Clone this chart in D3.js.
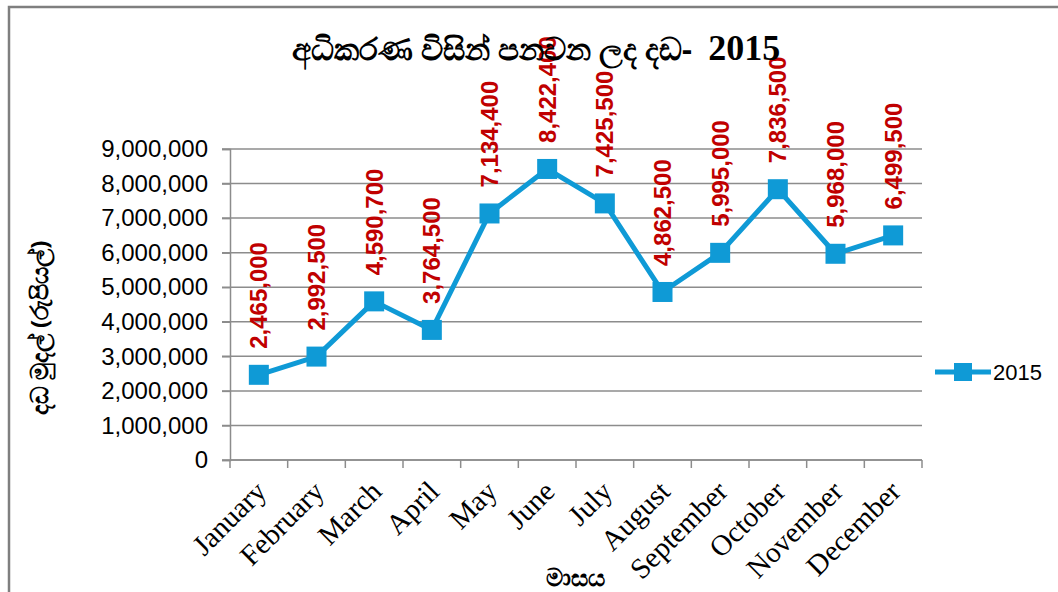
<!DOCTYPE html>
<html>
<head>
<meta charset="utf-8">
<script src="https://cdn.jsdelivr.net/npm/d3@7"></script>
<style>
  body { margin: 0; background: #fff; }
  svg { display: block; }
</style>
</head>
<body>
<svg id="chart" width="1058" height="592"></svg>
<script>
// chart data
const months = ['January', 'February', 'March', 'April', 'May', 'June', 'July',
    'August', 'September', 'October', 'November', 'December'];
const fines2015 = [2465000, 2992500, 4590700, 3764500, 7134400, 8422400, 7425500,
    4862500, 5995000, 7836500, 5968000, 6499500];
const yTicks = [0, 1000000, 2000000, 3000000, 4000000, 5000000, 6000000, 7000000, 8000000, 9000000];
const seriesName = '2015';
const titleText = 'අධිකරණ විසින් පනවන ලද දඩ-  ';
const yLabel = 'දඩ මුදල් (රුපියල්)';
const xLabel = 'මාසය';

const svg = d3.select('#chart');
const margin = { left: 230, right: 136, top: 149, bottom: 132 },
    width = 1058 - margin.left - margin.right,
    height = 592 - margin.top - margin.bottom;

const blue = '#0f9ad6', red = '#c00000', grid = '#8c8c8c';
const fmt = d3.format(',');

// outer frame (only left and top edges visible)
svg.append('path')
    .attr('d', 'M9,592 V7 H1058')
    .attr('fill', 'none')
    .attr('stroke', '#7f7f7f')
    .attr('stroke-width', 2.5);

const g = svg.append('g').attr('transform', 'translate(' + margin.left + ',' + margin.top + ')');

let xScale = d3.scaleBand()
    .domain(months)
    .range([0, width]);

let yScale = d3.scaleLinear()
    .domain([0, 9000000])
    .range([height, 0]);

// gridlines
g.append('g')
    .selectAll('line')
    .data(yTicks)
    .enter().append('line')
        .attr('x1', -8)
        .attr('x2', width)
        .attr('y1', d => yScale(d))
        .attr('y2', d => yScale(d))
        .attr('stroke', grid)
        .attr('stroke-width', 1.5);

// y axis
let yAxis = g.append('g')
    .call(d3.axisLeft(yScale).tickValues(yTicks).tickFormat(fmt).tickSize(8).tickPadding(14));
yAxis.select('.domain').attr('stroke', grid).attr('stroke-width', 1.5);
yAxis.selectAll('.tick line').attr('stroke', grid).attr('stroke-width', 1.5);
yAxis.selectAll('text')
    .attr('fill', '#000')
    .style('font', '24px "Liberation Sans", Arial, sans-serif');

// x axis: ticks at category boundaries
let xAxis = g.append('g')
    .attr('transform', 'translate(0,' + height + ')');
xAxis.append('line')
    .attr('x1', 0).attr('x2', width)
    .attr('stroke', grid).attr('stroke-width', 1.5);
xAxis.selectAll('.xtick')
    .data(months.concat(['end']))
    .enter().append('line')
        .attr('class', 'xtick')
        .attr('x1', (d, i) => i * xScale.step())
        .attr('x2', (d, i) => i * xScale.step())
        .attr('y1', 0).attr('y2', 8)
        .attr('stroke', grid).attr('stroke-width', 1.5);
xAxis.selectAll('.xlabel')
    .data(months)
    .enter().append('text')
        .attr('class', 'xlabel')
        .attr('transform', d => 'translate(' + (xScale(d) + xScale.bandwidth() / 2 + 2) + ',26) rotate(-45)')
        .attr('text-anchor', 'end')
        .attr('dy', '0.35em')
        .style('font', '29px "Liberation Serif", "Times New Roman", serif')
        .text(d => d);

// line and markers
let cx = d => xScale(d.m) + xScale.bandwidth() / 2;
let points = months.map((m, i) => ({ m: m, v: fines2015[i] }));

g.append('path')
    .datum(points)
    .attr('fill', 'none')
    .attr('stroke', blue)
    .attr('stroke-width', 5)
    .attr('stroke-linejoin', 'round')
    .attr('d', d3.line().x(cx).y(d => yScale(d.v)));

g.selectAll('.marker')
    .data(points)
    .enter().append('rect')
        .attr('class', 'marker')
        .attr('x', d => cx(d) - 10)
        .attr('y', d => yScale(d.v) - 10)
        .attr('width', 20)
        .attr('height', 20)
        .attr('fill', blue);

// data labels
g.selectAll('.dlabel')
    .data(points)
    .enter().append('text')
        .attr('class', 'dlabel')
        .attr('transform', d => 'translate(' + cx(d) + ',' + (yScale(d.v) - 26) + ') rotate(-90)')
        .attr('dy', '0.36em')
        .attr('fill', red)
        .style('font', 'bold 24px "Liberation Sans", Arial, sans-serif')
        .text(d => fmt(d.v));

// title
let title = svg.append('text')
    .attr('x', 536)
    .attr('y', 60)
    .attr('text-anchor', 'middle')
    .style('font', 'bold 31px "Noto Sans", "DejaVu Sans", sans-serif')
    .style('white-space', 'pre');
title.append('tspan').text(titleText);
title.append('tspan')
    .style('font', 'bold 36px "Liberation Serif", serif')
    .text(seriesName);

// axis titles
svg.append('text')
    .attr('transform', 'translate(40,328) rotate(-90)')
    .attr('text-anchor', 'middle')
    .attr('dy', '0.35em')
    .style('font', 'bold 24px "Noto Sans", "DejaVu Sans", sans-serif')
    .text(yLabel);

svg.append('text')
    .attr('x', 575)
    .attr('y', 586)
    .attr('text-anchor', 'middle')
    .style('font', 'bold 24px "Noto Sans", "DejaVu Sans", sans-serif')
    .text(xLabel);

// legend
let legend = svg.append('g').attr('transform', 'translate(935,372)');
legend.append('line')
    .attr('x1', 0).attr('x2', 56)
    .attr('stroke', blue).attr('stroke-width', 5);
legend.append('rect')
    .attr('x', 19).attr('y', -9)
    .attr('width', 18).attr('height', 18)
    .attr('fill', blue);
legend.append('text')
    .attr('x', 58)
    .attr('dy', '0.35em')
    .style('font', '22px "Liberation Sans", Arial, sans-serif')
    .text(seriesName);
</script>
</body>
</html>
